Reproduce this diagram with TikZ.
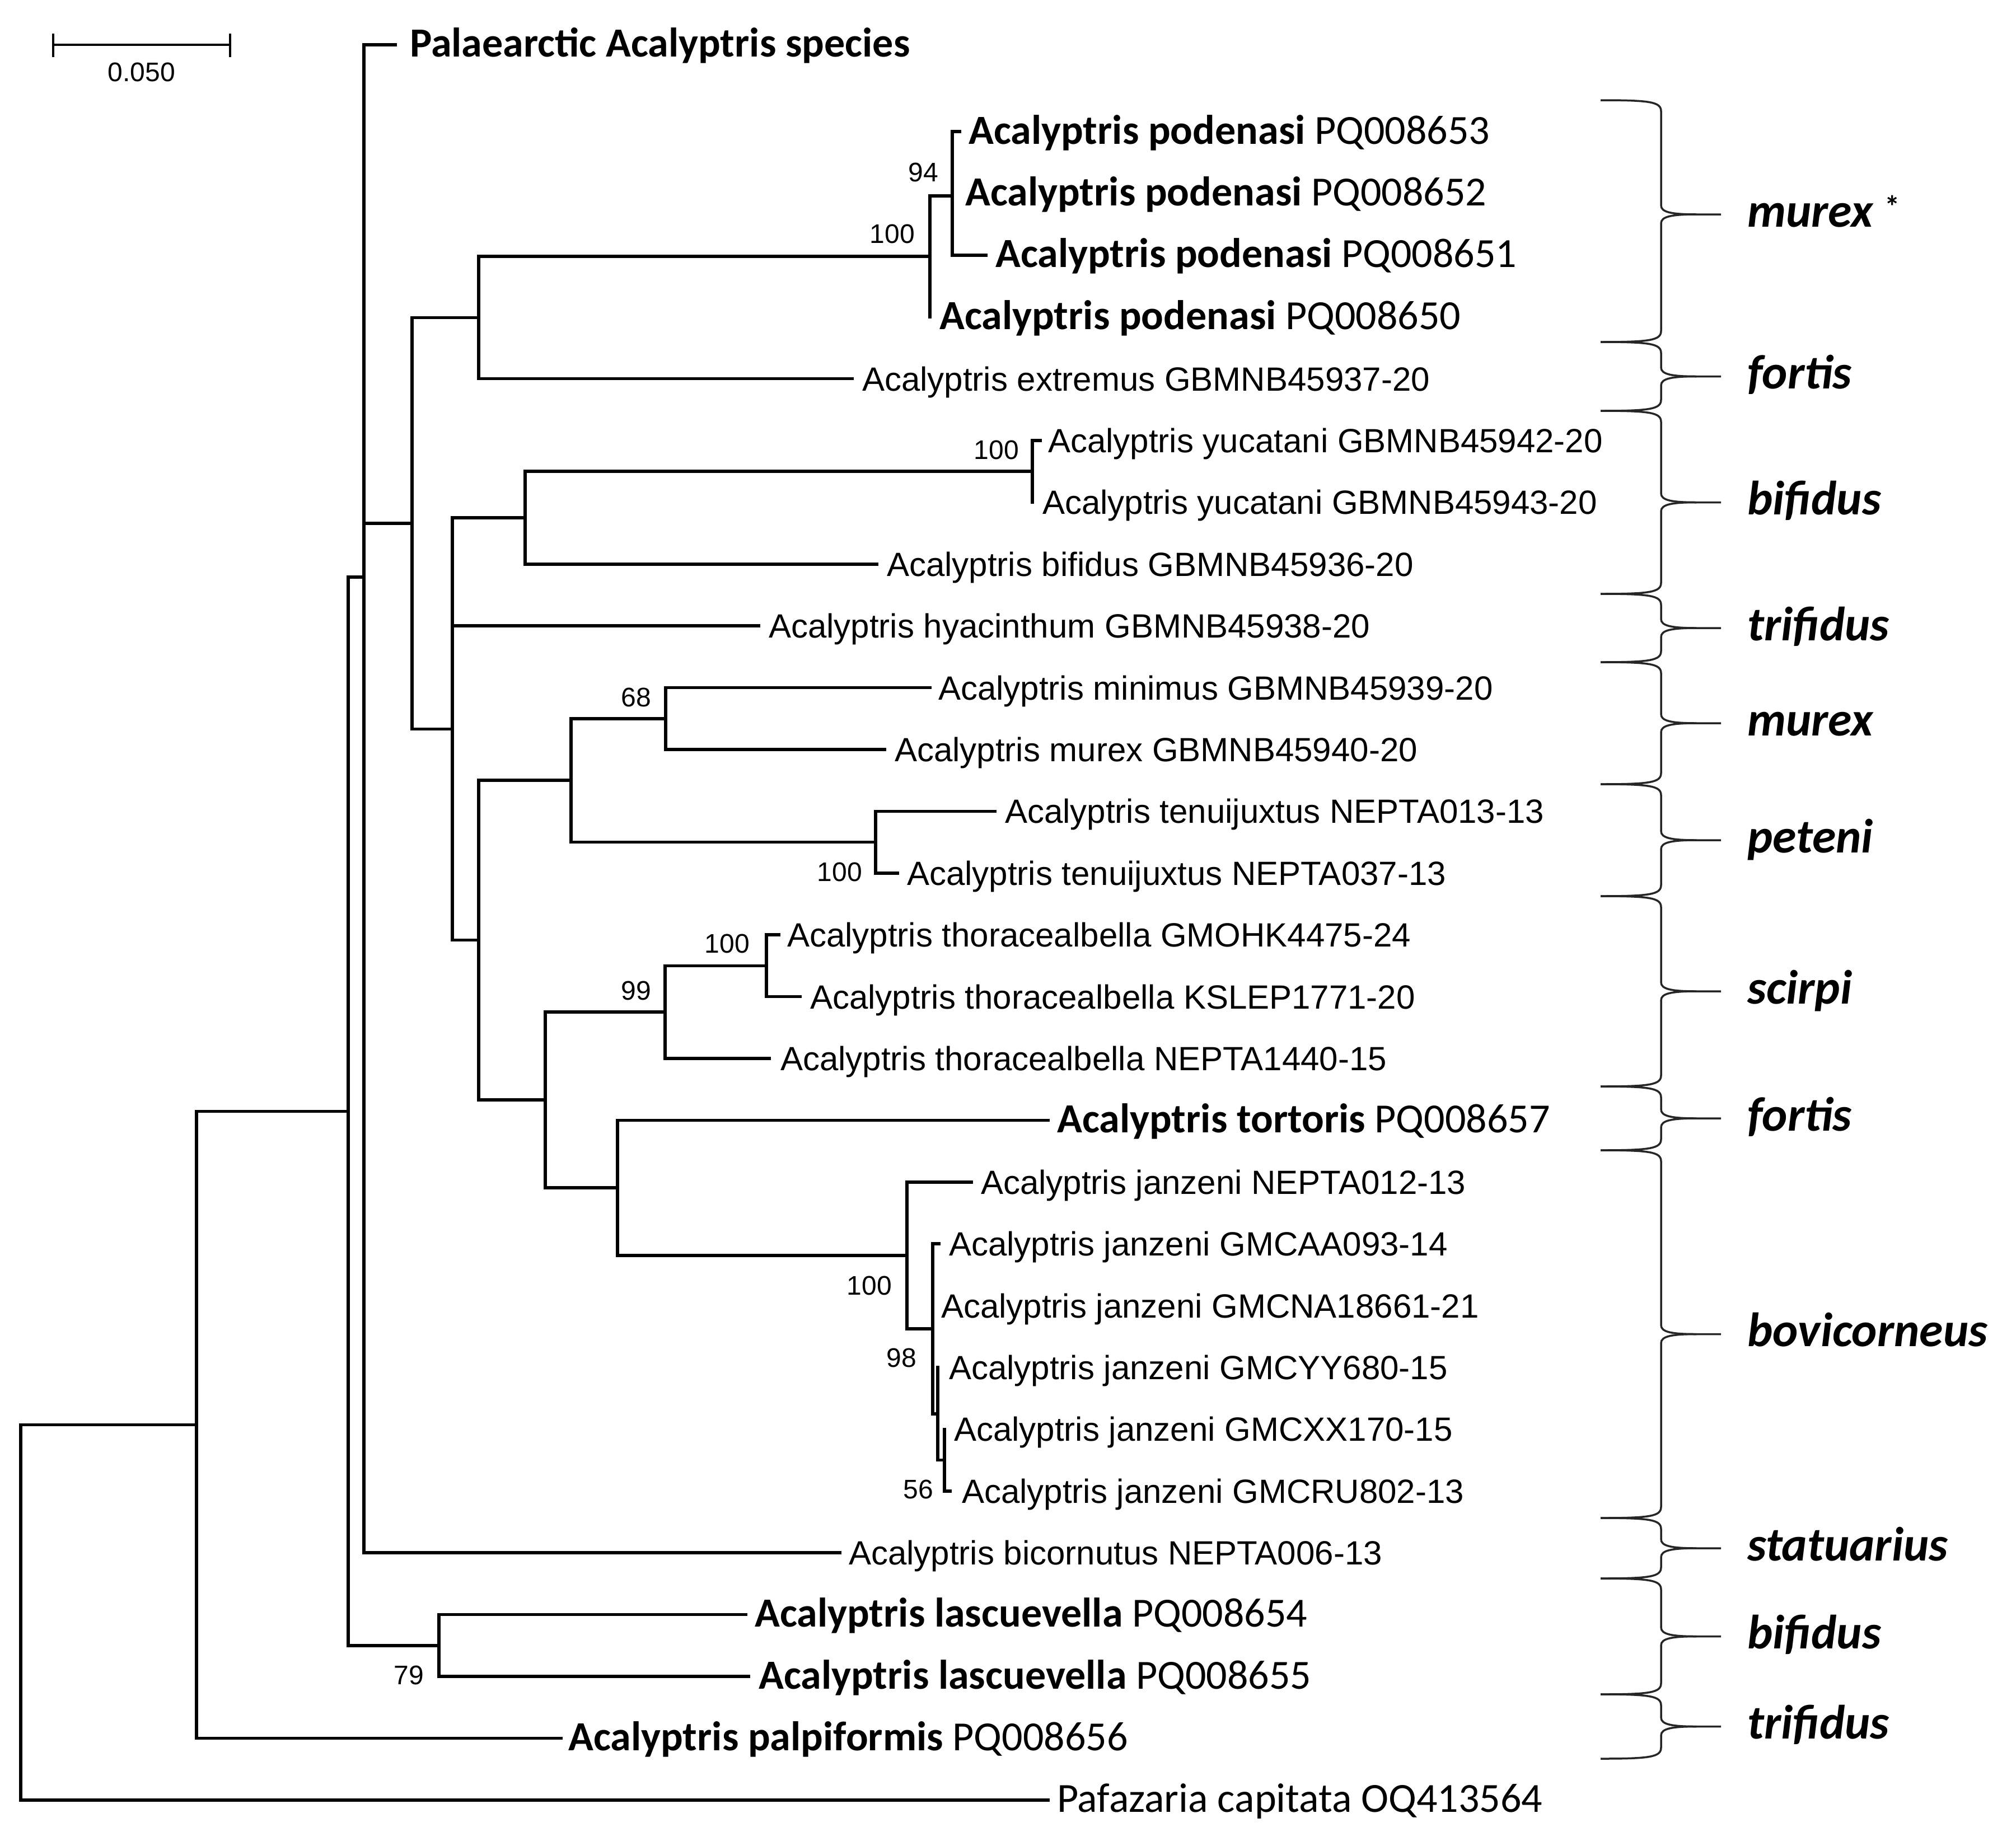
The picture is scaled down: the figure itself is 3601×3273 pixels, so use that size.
\documentclass[tikz,border=0pt]{standalone}
\usepackage{fontspec}
\setmainfont{Liberation Sans}
\newfontfamily\arfont{Liberation Sans}
\newfontfamily\calfont{Carlito}
\newcommand\grpbrace[3]{%
  \draw[bracestyle] (2859,#1) .. controls (2948,#1) and (2967,#1+3) .. (2967,#1+20)
     -- (2967,#2-16) .. controls (2967,#2-4) and (2985,#2) .. (3030,#2) -- (3074,#2);
  \draw[bracestyle] (3030,#2) .. controls (2985,#2) and (2967,#2+4) .. (2967,#2+16)
     -- (2967,#3-20) .. controls (2967,#3-3) and (2948,#3) .. (2859,#3);}
\begin{document}
\begin{tikzpicture}[x=1pt,y=-1pt,
  branch/.style={line width=5.5pt, line cap=rect, line join=miter},
  tipA/.style={anchor=base west, inner sep=0pt, yshift=-21.5pt, font=\arfont\fontsize{60}{70}\selectfont},
  tipB/.style={anchor=base west, inner sep=0pt, yshift=-22pt, font=\calfont\fontsize{74}{86}\selectfont},
  boot/.style={anchor=base east, inner sep=0pt, yshift=-17pt, font=\arfont\fontsize{48}{56}\selectfont},
  grp/.style={anchor=base west, inner sep=0pt, yshift=-22pt, font=\calfont\bfseries\itshape\fontsize{86}{100}\selectfont},
  bracestyle/.style={line width=3.5pt, black!85, line cap=butt}
]
\fill[white] (0,0) rectangle (3601,3273);
\useasboundingbox (0,0) rectangle (3601,3273);

% scale bar
\coordinate (sb1) at (95,80);
\coordinate (sb2) at (411,80);
\draw[line width=4.5pt] (sb1) -- (sb2);
\draw[line width=4pt] ([yshift=20pt]sb1) -- ([yshift=-22pt]sb1);
\draw[line width=4pt] ([yshift=20pt]sb2) -- ([yshift=-22pt]sb2);
\node[boot, anchor=base] (sbl) at (253,129) {0.050};

% internal nodes
\coordinate (root) at (37,2880.6);
\coordinate (A) at (351,2545.4);
\coordinate (B) at (622,1985.4);
\coordinate (C) at (650,1031);
\coordinate (L2) at (784,2939.8);
\coordinate (D) at (736,934.85);
\coordinate (F) at (855,567.35);
\coordinate (G) at (1661,458.1);
\coordinate (H) at (1701,350);
\coordinate (E) at (808,1302.35);
\coordinate (L) at (938,925);
\coordinate (M) at (1844,842.2);
\coordinate (I) at (855,1679.7);
\coordinate (J) at (1020,1394.2);
\coordinate (N) at (1189,1283.8);
\coordinate (O) at (1564,1504.6);
\coordinate (K) at (974,1965.2);
\coordinate (P) at (1188,1808.2);
\coordinate (Q) at (1369,1725.4);
\coordinate (R) at (1103,2122.15);
\coordinate (S) at (1620,2242.9);
\coordinate (T) at (1666,2374);
\coordinate (U) at (1675,2525.8);
\coordinate (V) at (1687,2608.6);

% tip branch ends
\coordinate (e1) at (706,80);
\coordinate (e2) at (1714,235);
\coordinate (e3) at (1701,345.4);
\coordinate (e4) at (1761,455.8);
\coordinate (e5) at (1661,566.2);
\coordinate (e6) at (1522,676.6);
\coordinate (e7) at (1858,787);
\coordinate (e8) at (1844,897.4);
\coordinate (e9) at (1566,1007.8);
\coordinate (e10) at (1355,1118.2);
\coordinate (e11) at (1661,1228.6);
\coordinate (e12) at (1580,1339);
\coordinate (e13) at (1777,1449.4);
\coordinate (e14) at (1603,1559.8);
\coordinate (e15) at (1391,1670.2);
\coordinate (e16) at (1429,1780.6);
\coordinate (e17) at (1374,1891);
\coordinate (e18) at (1872,2001.4);
\coordinate (e19) at (1735,2111.8);
\coordinate (e20) at (1677,2222.2);
\coordinate (e21) at (1666,2332.6);
\coordinate (e22) at (1675,2443);
\coordinate (e23) at (1687,2553.4);
\coordinate (e24) at (1697,2663.8);
\coordinate (e25) at (1500,2774.2);
\coordinate (e26) at (1332,2884.6);
\coordinate (e27) at (1337,2995);
\coordinate (e28) at (1002,3105.4);
\coordinate (e29) at (1872,3215.8);

% branches
\draw[branch] (root) |- (A);  \draw[branch] (root) |- (e29);
\draw[branch] (A) |- (B);     \draw[branch] (A) |- (e28);
\draw[branch] (B) |- (C);     \draw[branch] (B) |- (L2);
\draw[branch] (L2) |- (e26);  \draw[branch] (L2) |- (e27);
\draw[branch] (C) |- (e1);    \draw[branch] (C) |- (D);   \draw[branch] (C) |- (e25);
\draw[branch] (D) |- (F);     \draw[branch] (D) |- (E);
\draw[branch] (F) |- (G);     \draw[branch] (F) |- (e6);
\draw[branch] (G) |- (H);     \draw[branch] (G) |- (e5);
\draw[branch] (H) |- (e2);    \draw[branch] (H) |- (e3);  \draw[branch] (H) |- (e4);
\draw[branch] (E) |- (L);     \draw[branch] (E) |- (e10); \draw[branch] (E) |- (I);
\draw[branch] (L) |- (M);     \draw[branch] (L) |- (e9);
\draw[branch] (M) |- (e7);    \draw[branch] (M) |- (e8);
\draw[branch] (I) |- (J);     \draw[branch] (I) |- (K);
\draw[branch] (J) |- (N);     \draw[branch] (J) |- (O);
\draw[branch] (N) |- (e11);   \draw[branch] (N) |- (e12);
\draw[branch] (O) |- (e13);   \draw[branch] (O) |- (e14);
\draw[branch] (K) |- (P);     \draw[branch] (K) |- (R);
\draw[branch] (P) |- (Q);     \draw[branch] (P) |- (e17);
\draw[branch] (Q) |- (e15);   \draw[branch] (Q) |- (e16);
\draw[branch] (R) |- (e18);   \draw[branch] (R) |- (S);
\draw[branch] (S) |- (e19);   \draw[branch] (S) |- (T);
\draw[branch] (T) |- (e20);   \draw[branch] (T) |- (e21); \draw[branch] (T) |- (U);
\draw[branch] (U) |- (e22);   \draw[branch] (U) |- (V);
\draw[branch] (V) |- (e23);   \draw[branch] (V) |- (e24);

% tip labels
\node[tipB] (n1) at (732,80) {\bfseries Palaearctic Acalyptris species};
\node[tipB] (n2) at (1730,235) {\bfseries Acalyptris podenasi\mdseries{} PQ008653};
\node[tipB] (n3) at (1724,345.4) {\bfseries Acalyptris podenasi\mdseries{} PQ008652};
\node[tipB] (n4) at (1778,455.8) {\bfseries Acalyptris podenasi\mdseries{} PQ008651};
\node[tipB] (n5) at (1678,566.2) {\bfseries Acalyptris podenasi\mdseries{} PQ008650};
\node[tipA] (n6) at (1540,676.6) {Acalyptris extremus GBMNB45937-20};
\node[tipA] (n7) at (1872,787) {Acalyptris yucatani GBMNB45942-20};
\node[tipA] (n8) at (1862,897.4) {Acalyptris yucatani GBMNB45943-20};
\node[tipA] (n9) at (1584,1007.8) {Acalyptris bifidus GBMNB45936-20};
\node[tipA] (n10) at (1373,1118.2) {Acalyptris hyacinthum GBMNB45938-20};
\node[tipA] (n11) at (1676,1228.6) {Acalyptris minimus GBMNB45939-20};
\node[tipA] (n12) at (1598,1339) {Acalyptris murex GBMNB45940-20};
\node[tipA] (n13) at (1795,1449.4) {Acalyptris tenuijuxtus NEPTA013-13};
\node[tipA] (n14) at (1620,1559.8) {Acalyptris tenuijuxtus NEPTA037-13};
\node[tipA] (n15) at (1406,1670.2) {Acalyptris thoracealbella GMOHK4475-24};
\node[tipA] (n16) at (1447,1780.6) {Acalyptris thoracealbella KSLEP1771-20};
\node[tipA] (n17) at (1394,1891) {Acalyptris thoracealbella NEPTA1440-15};
\node[tipB] (n18) at (1888,2001.4) {\bfseries Acalyptris tortoris\mdseries{} PQ008657};
\node[tipA] (n19) at (1752,2111.8) {Acalyptris janzeni NEPTA012-13};
\node[tipA] (n20) at (1695,2222.2) {Acalyptris janzeni GMCAA093-14};
\node[tipA] (n21) at (1681,2332.6) {Acalyptris janzeni GMCNA18661-21};
\node[tipA] (n22) at (1695,2443) {Acalyptris janzeni GMCYY680-15};
\node[tipA] (n23) at (1704,2553.4) {Acalyptris janzeni GMCXX170-15};
\node[tipA] (n24) at (1718,2663.8) {Acalyptris janzeni GMCRU802-13};
\node[tipA] (n25) at (1516,2774.2) {Acalyptris bicornutus NEPTA006-13};
\node[tipB] (n26) at (1348,2884.6) {\bfseries Acalyptris lascuevella\mdseries{} PQ008654};
\node[tipB] (n27) at (1355,2995) {\bfseries Acalyptris lascuevella\mdseries{} PQ008655};
\node[tipB] (n28) at (1015,3105.4) {\bfseries Acalyptris palpiformis\mdseries{} PQ008656};
\node[tipB] (n29) at (1888,3215.8) {Pafazaria capitata OQ413564};

% bootstrap values
\node[boot] (b94) at (1676,307) {94};
\node[boot] (bG) at (1634,417) {100};
\node[boot] (bM) at (1820,803) {100};
\node[boot] (b68) at (1163,1245) {68};
\node[boot] (bO) at (1540,1557) {100};
\node[boot] (bQ) at (1339,1685) {100};
\node[boot] (b99) at (1163,1769) {99};
\node[boot] (bS) at (1593,2296) {100};
\node[boot] (b98) at (1637,2425) {98};
\node[boot] (b56) at (1667,2660) {56};
\node[boot] (b79) at (757,2992) {79};

% group braces
\grpbrace{179}{383}{611}
\grpbrace{611}{672.5}{734}
\grpbrace{734}{897.5}{1061}
\grpbrace{1061}{1122}{1183}
\grpbrace{1183}{1292}{1401}
\grpbrace{1401}{1501}{1601}
\grpbrace{1601}{1771}{1941}
\grpbrace{1941}{1998}{2055}
\grpbrace{2055}{2383.5}{2712}
\grpbrace{2712}{2766}{2820}
\grpbrace{2820}{2923.5}{3027}
\grpbrace{3027}{3084.5}{3142}

\node[grp] (g1) at (3121,383) {murex};
\node[anchor=base west, inner sep=0pt, font=\calfont\bfseries\fontsize{55}{60}\selectfont] (g1s) at (3366,388) {*};
\node[grp] (g2) at (3121,672.5) {fortis};
\node[grp] (g3) at (3121,897.5) {bifidus};
\node[grp] (g4) at (3121,1122) {trifidus};
\node[grp] (g5) at (3121,1292) {murex};
\node[grp] (g6) at (3121,1501) {peteni};
\node[grp] (g7) at (3121,1771) {scirpi};
\node[grp] (g8) at (3121,1998) {fortis};
\node[grp] (g9) at (3121,2383.5) {bovicorneus};
\node[grp] (g10) at (3121,2766) {statuarius};
\node[grp] (g11) at (3121,2923.5) {bifidus};
\node[grp] (g12) at (3121,3084.5) {trifidus};
\end{tikzpicture}
\end{document}
